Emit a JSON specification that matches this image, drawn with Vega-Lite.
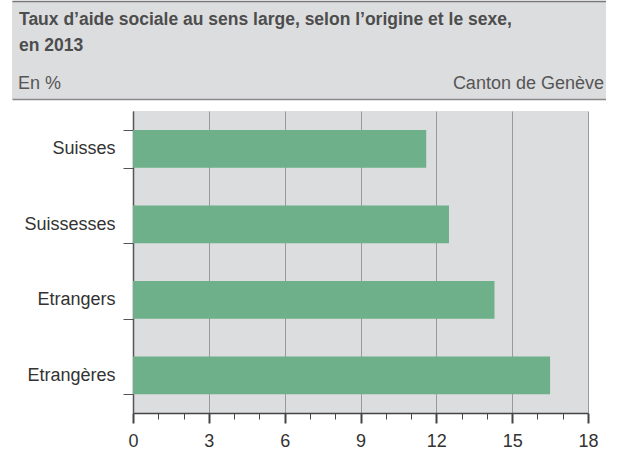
{
  "$schema": "https://vega.github.io/schema/vega-lite/v6.json",
  "padding": {"left": 12, "top": 1, "right": 0, "bottom": 0},
  "background": "white",
  "config": {"font": "Liberation Sans", "view": {"stroke": null}},
  "spacing": 3,
  "vconcat": [
    {
      "spacing": 0,
      "vconcat": [
        {
          "width": 594,
          "height": 63,
          "view": {"fill": "#dcdddf", "stroke": null},
          "data": {"values": [
            {"text": "Taux d’aide sociale au sens large, selon l’origine et le sexe,\nen 2013", "side": "left"}
          ]},
          "mark": {"type": "text", "align": "left", "baseline": "middle", "lineBreak": "\n", "lineHeight": 26, "fontSize": 17.5, "fontWeight": "bold", "color": "#4d4d4d", "dx": 7, "dy": -13},
          "encoding": {
            "x": {"field": "side", "type": "nominal", "scale": {"type": "point", "domain": ["left", "right"], "padding": 0},
                  "axis": {"orient": "top", "domain": true, "domainColor": "#777", "domainWidth": 1.5, "ticks": false, "labels": false, "title": null, "grid": false}},
            "text": {"field": "text"}
          }
        },
        {
          "width": 594,
          "height": 35,
          "view": {"fill": "#dcdddf", "stroke": null},
          "data": {"values": [
            {"text": "En %", "side": "left"},
            {"text": "Canton de Genève", "side": "right"}
          ]},
          "encoding": {
            "x": {"field": "side", "type": "nominal", "scale": {"type": "point", "domain": ["left", "right"], "padding": 0},
                  "axis": {"orient": "bottom", "domain": true, "domainColor": "#888", "domainWidth": 1.5, "ticks": false, "labels": false, "title": null, "grid": false}},
            "text": {"field": "text"}
          },
          "layer": [
            {"transform": [{"filter": "datum.side === 'left'"}],
             "mark": {"type": "text", "align": "left", "baseline": "middle", "fontSize": 18, "color": "#555", "dx": 6, "dy": 2}},
            {"transform": [{"filter": "datum.side === 'right'"}],
             "mark": {"type": "text", "align": "right", "baseline": "middle", "fontSize": 18, "color": "#555", "dx": -2, "dy": 2}}
          ]
        }
      ]
    },
    {
      "spacing": 10,
      "hconcat": [
        {
          "width": 1,
          "height": 1,
          "view": {"fill": "#ffffff", "stroke": null},
          "data": {"values": []},
          "mark": "point"
        },
        {
          "width": 455,
          "height": 302,
          "view": {"fill": "#dcdddf", "stroke": null},
          "data": {"values": [
            {"groupe": "Suisses", "taux": 11.6},
            {"groupe": "Suissesses", "taux": 12.5},
            {"groupe": "Etrangers", "taux": 14.3},
            {"groupe": "Etrangères", "taux": 16.5}
          ]},
          "mark": {"type": "bar", "color": "#6db08a"},
          "encoding": {
            "y": {"field": "groupe", "type": "nominal", "sort": null,
                  "scale": {"paddingInner": 0.5, "paddingOuter": 0.25},
                  "axis": {"title": null, "tickBand": "extent", "domainColor": "#555", "domainWidth": 1.5, "tickColor": "#555", "tickWidth": 1, "tickSize": 10, "labelFontSize": 18, "labelColor": "#333", "labelPadding": 8, "grid": false}},
            "x": {"field": "taux", "type": "quantitative",
                  "scale": {"domain": [0, 18], "nice": false},
                  "axis": {"title": null,
                           "values": [0,1,2,3,4,5,6,7,8,9,10,11,12,13,14,15,16,17,18],
                           "labelExpr": "datum.value % 3 === 0 ? datum.label : ''",
                           "labelOverlap": false, "labelFlush": false,
                           "labelFontSize": 18, "labelColor": "#333", "labelPadding": 9,
                           "domainColor": "#444", "domainWidth": 1.5,
                           "tickColor": "#444",
                           "tickSize": {"condition": {"test": "datum.value % 3 === 0", "value": 10}, "value": 6},
                           "tickWidth": {"condition": {"test": "datum.value % 3 === 0", "value": 2}, "value": 1},
                           "grid": true, "gridColor": "#999", "gridWidth": 1,
                           "gridOpacity": {"condition": {"test": "datum.value % 3 === 0", "value": 1}, "value": 0}}}
          }
        }
      ]
    }
  ]
}
